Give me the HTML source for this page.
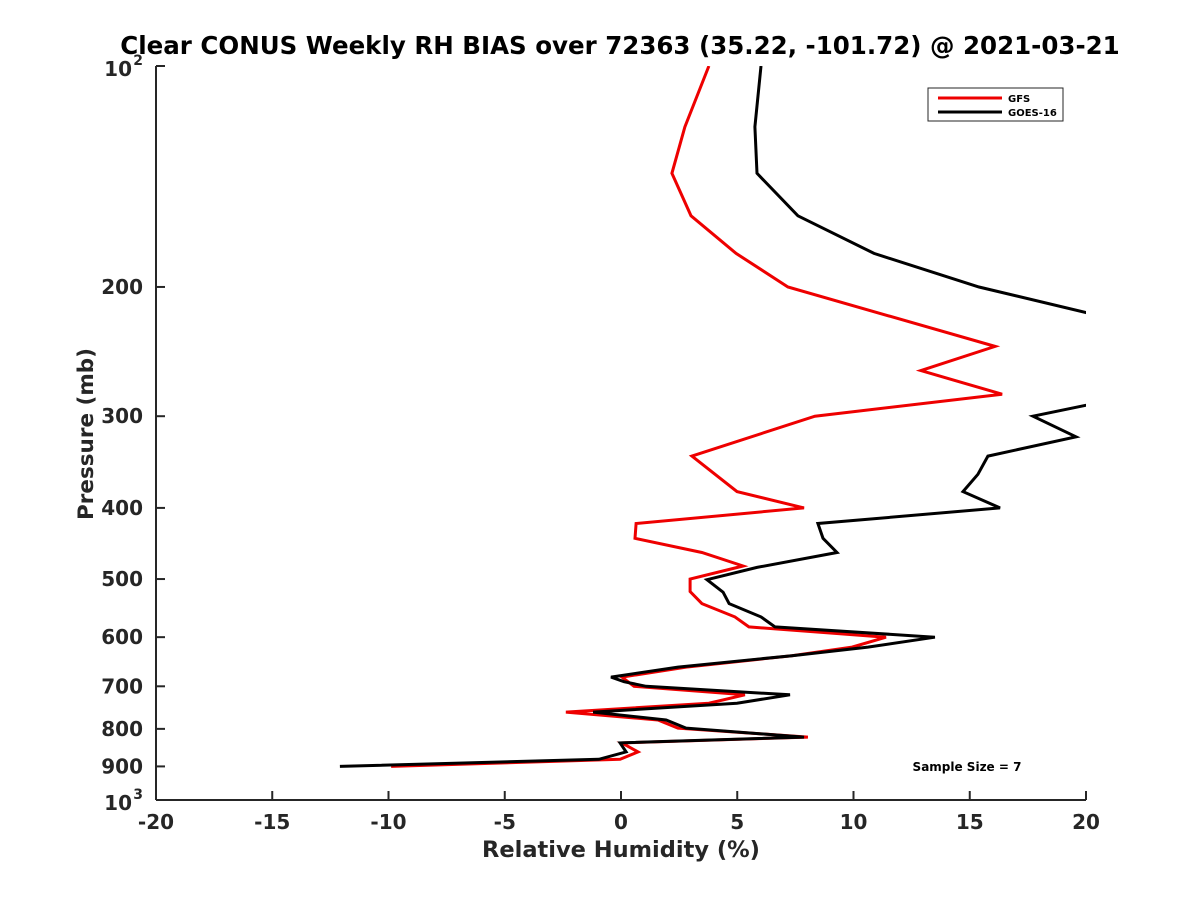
<!DOCTYPE html>
<html><head><meta charset="utf-8"><style>
body{margin:0;background:#fff}
text{font-family:"DejaVu Sans","Liberation Sans",sans-serif;font-weight:bold}
</style></head><body>
<svg id="chart" width="1200" height="900" xmlns="http://www.w3.org/2000/svg">
<rect width="1200" height="900" fill="#fff"/>
<defs><clipPath id="pc"><rect x="156" y="66" width="930" height="734"/></clipPath></defs>
<text x="620" y="54" text-anchor="middle" font-size="24.5" fill="#000">Clear CONUS Weekly RH BIAS over 72363 (35.22, -101.72) @ 2021-03-21</text>
<g id="axes"></g>
<g id="series" clip-path="url(#pc)"></g>
<text transform="translate(93,434) rotate(-90)" text-anchor="middle" font-size="21.5" fill="#262626">Pressure (mb)</text>
<text x="621" y="857" text-anchor="middle" font-size="22.5" fill="#262626">Relative Humidity (%)</text>
<g>
<rect x="928" y="88" width="135" height="33" fill="#fff" stroke="#262626" stroke-width="1"/>
<line x1="938" y1="98" x2="1002" y2="98" stroke="#e00" stroke-width="3"/>
<text x="1008" y="102" font-size="10" fill="#000">GFS</text>
<line x1="938" y1="112" x2="1002" y2="112" stroke="#000" stroke-width="3"/>
<text x="1008" y="116" font-size="10" fill="#000">GOES-16</text>
</g>
<text x="967" y="771" text-anchor="middle" font-size="12" fill="#000">Sample Size = 7</text>
</svg>
<script>
const xTicks=[-20,-15,-10,-5,0,5,10,15,20];
const yTicks=[200,300,400,500,600,700,800,900];
const gfsP=[100,121,140,160,180,200,241,260,280,300,340,380,400,420,440,460,480,500,520,540,563,581,600,619,636,659,680,700,719,738,759,778,798,821,836,860,880,900];
const gfsX=[3.78,2.75,2.19,3.01,4.95,7.18,16.09,12.9,16.39,8.34,3.05,4.99,7.87,0.65,0.6,3.48,5.25,2.97,2.97,3.48,4.9,5.5,11.4,9.94,7.35,2.8,0.04,0.56,5.33,3.78,-2.37,1.59,2.45,8.04,0.04,0.73,-0.04,-9.89];
const goesP=[100,121,140,160,180,200,241,260,280,300,320,340,360,380,400,420,440,460,482,501,521,540,563,581,600,619,636,659,680,690,700,719,738,759,778,798,821,836,860,880,900];
const goesX=[6.02,5.76,5.85,7.61,10.88,15.4,26.1,25,22.3,17.72,19.57,15.78,15.35,14.71,16.3,8.47,8.69,9.29,5.85,3.7,4.39,4.65,6.02,6.62,13.5,10.62,7.35,2.45,-0.43,0.13,1.08,7.27,4.99,-1.2,1.94,2.8,7.87,-0.04,0.22,-0.95,-12.09];
const NS='http://www.w3.org/2000/svg';
const L=156,R=1086,T=66,B=800;
const xs=v=>L+(v+20)/40*(R-L);
const ys=p=>T+Math.log10(p/100)*(B-T);
function mk(t,a,parent){const e=document.createElementNS(NS,t);for(const k in a)e.setAttribute(k,a[k]);parent.appendChild(e);return e;}
const ax=document.getElementById('axes');
const xl=mk('line',{x1:L,y1:B,x2:R,y2:B,stroke:'#262626','stroke-width':2},ax);


const yl=mk('line',{x1:L,y1:T,x2:L,y2:B,stroke:'#262626','stroke-width':2},ax);


xTicks.forEach(v=>{
 mk('line',{x1:xs(v),y1:B,x2:xs(v),y2:B-9,stroke:'#262626','stroke-width':2},ax);
 const t=mk('text',{x:xs(v),y:B+29,'text-anchor':'middle','font-size':20,fill:'#262626'},ax);
 t.textContent=String(v);
 
 
});
[100,1000].concat(yTicks).forEach(p=>{
 mk('line',{x1:L,y1:ys(p),x2:L+9,y2:ys(p),stroke:'#262626','stroke-width':2},ax);
});
yTicks.forEach(p=>{
 const t=mk('text',{x:L-13,y:ys(p)+7,'text-anchor':'end','font-size':20,fill:'#262626'},ax);
 t.textContent=String(p);
 
 
});
[[100,'2'],[1000,'3']].forEach(([p,s])=>{
 const t=mk('text',{x:L-24,y:ys(p)+10,'text-anchor':'end','font-size':20,fill:'#262626'},ax);
 t.textContent='10';
 
 
 const e=mk('text',{x:L-13,y:ys(p)-1,'text-anchor':'end','font-size':14,fill:'#262626'},ax);
 e.textContent=s;
 
 
});
const sg=document.getElementById('series');
function line(P,X,col,name){
 const d=P.map((p,i)=>(i?'L':'M')+xs(X[i]).toFixed(1)+','+ys(p).toFixed(1)).join('');
 const e=mk('path',{d:d,fill:'none',stroke:col,'stroke-width':3,'stroke-linejoin':'miter'},sg);
 
 
}
line(gfsP,gfsX,'#e00','gfs-line');
line(goesP,goesX,'#000','goes16-line');
</script>
</body></html>
